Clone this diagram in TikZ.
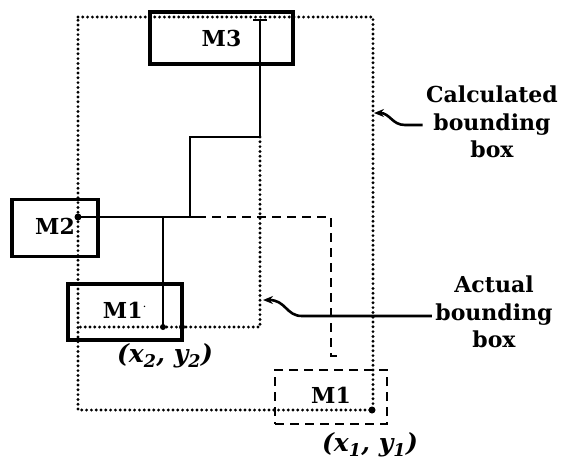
\documentclass[tikz,border=0pt]{standalone}
\usepackage{fontspec}
\setmainfont{DejaVu Serif}
\usetikzlibrary{arrows.meta}
\begin{document}
\begin{tikzpicture}[x=1pt,y=-1pt,
  every node/.style={font=\fontsize{22}{27.5}\selectfont\bfseries},
  cell/.style={draw,line width=3.6pt,inner sep=0pt},
  ghost/.style={draw,line width=2.8pt,dash pattern=on 9pt off 6pt,inner sep=0pt},
  wire/.style={line width=2.6pt},
  dwire/.style={line width=2.8pt,dash pattern=on 9pt off 6pt},
  dots/.style={line width=3.2pt,line cap=round,dash pattern=on 0pt off 4.8pt},
  pin/.style={circle,fill,inner sep=0pt,minimum size=7pt},
  pointer/.style={line width=2.6pt,-{Stealth[length=10pt,width=8pt]}},
  coordlabel/.style={font=\fontsize{25}{27.5}\selectfont\bfseries\itshape},
  caption/.style={align=center}]
\useasboundingbox (0,0) rectangle (565,467);
% cells
\node[cell,minimum width=143pt,minimum height=52pt] (m3) at (221.5,38) {M3};
\node[cell,minimum width=86pt,minimum height=57pt] (m2) at (55,228) {\raisebox{3pt}{M2}\hspace{16pt}};
\node[cell,minimum width=114pt,minimum height=56pt] (m1p) at (125,312) {\raisebox{4pt}{M1$^{\cdot}$}\hspace{24pt}};
\node[ghost,minimum width=112pt,minimum height=54pt] (m1) at (331,397) {\raisebox{4pt}{M1}};
% coordinates
\coordinate (tl) at (78,17);
\coordinate (tr) at (373,17);
\coordinate (br) at (373,410);
\coordinate (bl) at (78,410);
\coordinate (ar) at (260,137);
\coordinate (arb) at (260,327);
\coordinate (alb) at (78,327);
\coordinate (p2) at (78,217);
\coordinate (p3) at (260,20);
\coordinate (j1) at (190,137);
\coordinate (j2) at (190,217);
\coordinate (j3) at (163,217);
\coordinate (p1p) at (163,327);
\coordinate (p1) at (372,410);
\coordinate (d1) at (197,217);
\coordinate (d2) at (331,217);
\coordinate (d3) at (331,356);
\coordinate (d4) at (342,356);
% calculated bounding box
\draw[dots] (tl) -- (tr) -- (br) -- (bl) -- cycle;
% actual bounding box
\draw[dots] (ar) -- (arb) -- (alb);
% wires
\draw[wire] (253,20) -- (267,20);
\draw[wire] (p3) -- (ar) -- (j1) -- (j2);
\draw[wire] (p2) -- (d1);
\draw[wire] (j3) -- (p1p);
\draw[dwire] (d1) -- (d2) -- (d3) -- (d4);
% pins
\node[pin] (pin2) at (p2) {};
\node[pin,minimum size=6pt] (pin1p) at (p1p) {};
\node[pin,minimum size=6pt] (pin1pc) at (182,327) {};
\node[pin] (pin1) at (p1) {};
% coordinate labels
\node[coordlabel] (l2) at (165,356) {(x\textsubscript{2}, y\textsubscript{2})};
\node[coordlabel] (l1) at (370,445) {(x\textsubscript{1}, y\textsubscript{1})};
% captions
\node[caption] (calc) at (492,122) {Calculated\\bounding\\box};
\node[caption] (act) at (494,312) {Actual\\bounding\\box};
\draw[pointer] (calc.west |- 0,125) -- (405,125) .. controls (392,125) and (390,113) .. (374,113);
\draw[pointer] (act.west |- 0,316) -- (302,316) .. controls (286,316) and (286,300) .. (263,300);
\end{tikzpicture}
\end{document}
